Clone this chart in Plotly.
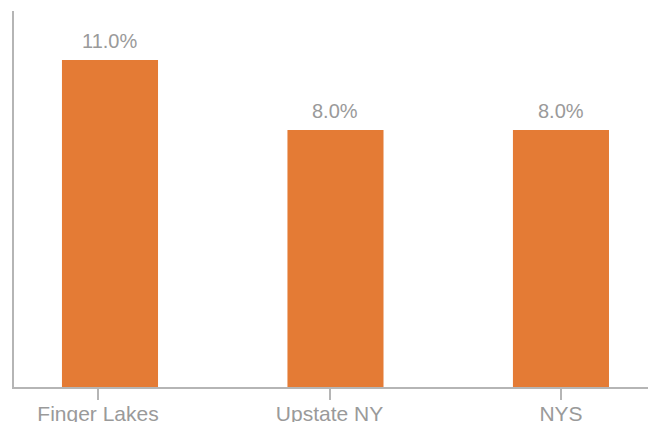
import plotly.graph_objects as go

categories = ["Finger Lakes", "Upstate NY", "NYS"]
values = [11.0, 8.0, 8.0]
value_labels = ["11.0%", "8.0%", "8.0%"]

Y_MIN = -3.0
Y_MAX = 13.1
ORANGE = "#E47B35"
GRAY_TEXT = "#9a9a9a"
AXIS = "#b5b5b5"
FONT = "Liberation Sans, Arial, Helvetica, sans-serif"

fig = go.Figure()
fig.add_trace(go.Bar(
    x=categories,
    y=[v - Y_MIN for v in values],
    base=Y_MIN,
    width=0.426,
    marker=dict(color=ORANGE, line=dict(width=0)),
    hoverinfo="skip",
    xaxis="x",
    yaxis="y",
))
# invisible trace carrying the category tick marks and labels
fig.add_trace(go.Scatter(
    x=categories,
    y=values,
    mode="markers",
    marker=dict(opacity=0),
    hoverinfo="skip",
    xaxis="x2",
    yaxis="y",
    showlegend=False,
))

for cat, val, lab in zip(categories, values, value_labels):
    fig.add_annotation(
        x=cat, y=val, xref="x", yref="y",
        text=lab, showarrow=False,
        yanchor="bottom", xanchor="center", yshift=6,
        font=dict(family=FONT, size=20, color=GRAY_TEXT),
    )

fig.update_layout(
    width=648,
    height=422,
    margin=dict(l=14, r=0, t=11, b=35, autoexpand=False),
    paper_bgcolor="white",
    plot_bgcolor="white",
    showlegend=False,
    font=dict(family=FONT, color=GRAY_TEXT),
    xaxis=dict(
        type="category",
        range=[-0.4257, 2.386],
        showline=True,
        linecolor=AXIS,
        linewidth=2,
        showticklabels=False,
        ticks="",
        showgrid=False,
        zeroline=False,
        automargin=False,
        fixedrange=True,
    ),
    xaxis2=dict(
        type="category",
        overlaying="x",
        anchor="y",
        side="bottom",
        range=[-0.363, 2.376],
        showline=False,
        ticks="outside",
        ticklen=12,
        tickwidth=2,
        tickcolor=AXIS,
        ticklabelstandoff=-4,
        tickfont=dict(family=FONT, size=21, color=GRAY_TEXT),
        showgrid=False,
        zeroline=False,
        automargin=False,
        fixedrange=True,
    ),
    yaxis=dict(
        range=[Y_MIN, Y_MAX],
        showline=True,
        linecolor=AXIS,
        linewidth=2,
        showticklabels=False,
        ticks="",
        showgrid=False,
        zeroline=False,
        automargin=False,
        fixedrange=True,
    ),
)

fig.write_html(
    "out.html",
    config={"displayModeBar": False},
    post_script="document.body.style.margin='0';document.body.style.overflow='hidden';",
)
